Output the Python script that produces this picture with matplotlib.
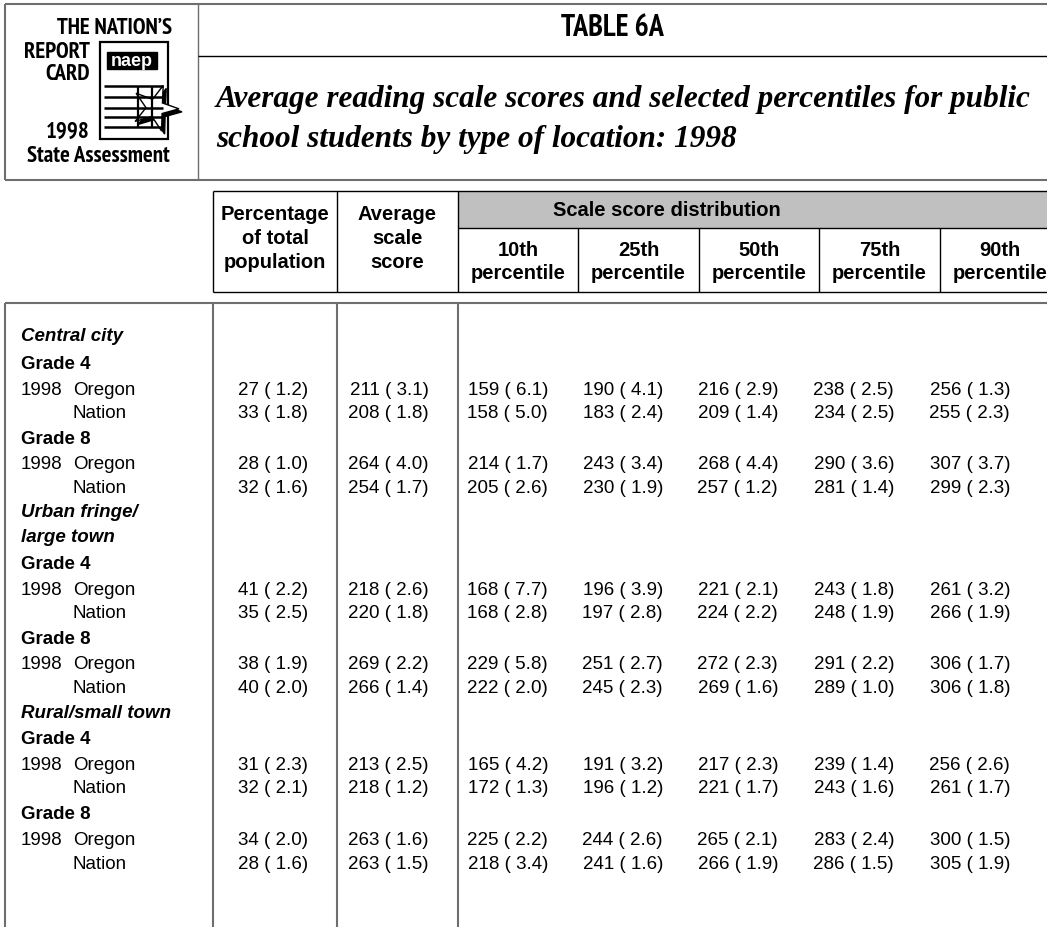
import matplotlib
matplotlib.use("Agg")
import matplotlib.pyplot as plt
from matplotlib import font_manager as fm
from matplotlib.patches import Rectangle, Polygon
import numpy as np

# ---------------- data ----------------
location_labels = ["Central city", "Urban fringe/", "large town", "Rural/small town"]
grade_labels = ["Grade 4", "Grade 8"]
jurisdiction_labels = ["Oregon", "Nation"]
year_label = "1998"

pct_total = [27, 33, 28, 32, 41, 35, 38, 40, 31, 32, 34, 28]
pct_total_se = [1.2, 1.8, 1.0, 1.6, 2.2, 2.5, 1.9, 2.0, 2.3, 2.1, 2.0, 1.6]
avg_score = [211, 208, 264, 254, 218, 220, 269, 266, 213, 218, 263, 263]
avg_score_se = [3.1, 1.8, 4.0, 1.7, 2.6, 1.8, 2.2, 1.4, 2.5, 1.2, 1.6, 1.5]
p10 = [159, 158, 214, 205, 168, 168, 229, 222, 165, 172, 225, 218]
p10_se = [6.1, 5.0, 1.7, 2.6, 7.7, 2.8, 5.8, 2.0, 4.2, 1.3, 2.2, 3.4]
p25 = [190, 183, 243, 230, 196, 197, 251, 245, 191, 196, 244, 241]
p25_se = [4.1, 2.4, 3.4, 1.9, 3.9, 2.8, 2.7, 2.3, 3.2, 1.2, 2.6, 1.6]
p50 = [216, 209, 268, 257, 221, 224, 272, 269, 217, 221, 265, 266]
p50_se = [2.9, 1.4, 4.4, 1.2, 2.1, 2.2, 2.3, 1.6, 2.3, 1.7, 2.1, 1.9]
p75 = [238, 234, 290, 281, 243, 248, 291, 289, 239, 243, 283, 286]
p75_se = [2.5, 2.5, 3.6, 1.4, 1.8, 1.9, 2.2, 1.0, 1.4, 1.6, 2.4, 1.5]
p90 = [256, 255, 307, 299, 261, 266, 306, 306, 256, 261, 300, 305]
p90_se = [1.3, 2.3, 3.7, 2.3, 3.2, 1.9, 1.7, 1.8, 2.6, 1.7, 1.5, 1.9]

col_headers = [["Percentage", "of total", "population"], ["Average", "scale", "score"]]
pct_headers = ["10th", "25th", "50th", "75th", "90th"]
pct_word = "percentile"
group_header = "Scale score distribution"
table_title = "TABLE 6A"
subtitle_lines = ["Average reading scale scores and selected percentiles for public",
                  "school students by type of location: 1998"]
logo_lines = ["THE NATION\u2019S", "REPORT", "CARD", "1998", "State Assessment"]

# ---------------- fonts ----------------
def wnum(w):
    if isinstance(w, (int, float)):
        return w
    return {"bold": 700, "heavy": 800, "black": 900, "semibold": 600,
            "demibold": 600, "extra bold": 800, "ultrabold": 800}.get(str(w).lower(), 400)

names = {f.name for f in fm.fontManager.ttflist}
bold_names = {f.name for f in fm.fontManager.ttflist
              if wnum(f.weight) >= 700 and f.style == "normal"}

def pick(cands, default, pool):
    for c in cands:
        if c in pool:
            return c
    return default

SANS = pick(["Liberation Sans", "Arimo"], "DejaVu Sans", names)
NARROW = pick(["Liberation Sans Narrow", "Arial Narrow", "Archivo Narrow",
               "PT Sans Narrow", "Roboto Condensed", "Fira Sans Condensed",
               "IBM Plex Sans Condensed", "Encode Sans Condensed",
               "Asap Condensed", "Barlow Semi Condensed", "Pragati Narrow",
               "Open Sans Condensed", "Sofia Sans Condensed"],
              SANS, bold_names)
SERIF = pick(["Liberation Serif", "Tinos"], "DejaVu Serif", names)

W, H = 1047, 928
fig = plt.figure(figsize=(W / 100, H / 100), dpi=100)
ax = fig.add_axes([0, 0, 1, 1])
ax.set_xlim(0, W)
ax.set_ylim(H, 0)
ax.axis("off")

GRAYLINE = "#6e6e6e"

def hline(y, x0, x1, color="black", lw=1.0):
    ax.plot([x0, x1], [y, y], color=color, lw=lw, solid_capstyle="butt")

def vline(x, y0, y1, color="black", lw=1.0):
    ax.plot([x, x], [y0, y1], color=color, lw=lw, solid_capstyle="butt")

# ---------------- top box ----------------
hline(4.5, 5, W, GRAYLINE, 1.5)
hline(181, 5, W, GRAYLINE, 1.5)
vline(5, 4.5, 181, GRAYLINE, 1.5)
vline(198, 4.5, 181, GRAYLINE, 1.0)
hline(57, 198, W, "black", 1.0)

ax.text(612, 28, table_title, ha="center", va="center", fontsize=21.5,
        fontweight="bold", family=NARROW)
for yy, t in zip([99, 139], subtitle_lines):
    ax.text(216, yy, t, ha="left", va="center", fontsize=22.5,
            fontweight="bold", fontstyle="italic", family=SERIF)

# logo
lkw = dict(fontweight="bold", family=NARROW, va="center")
LFS = 16.5
ax.text(172, 29, logo_lines[0], ha="right", fontsize=LFS, **lkw)
ax.text(90, 53, logo_lines[1], ha="right", fontsize=LFS, **lkw)
ax.text(90, 74, logo_lines[2], ha="right", fontsize=LFS, **lkw)
ax.text(90, 132, logo_lines[3], ha="right", fontsize=LFS, **lkw)
ax.text(98, 156, logo_lines[4], ha="center", fontsize=LFS, **lkw)
ax.add_patch(Rectangle((100, 43), 68, 97, fill=False, ec="black", lw=1.6))
ax.add_patch(Rectangle((107, 53), 50, 17, fc="black", ec="black"))
ax.text(132, 61.5, "naep", ha="center", va="center", color="white",
        fontsize=13, fontweight="bold", family=SANS)
for yy in [87, 98, 109, 118, 128]:
    hline(yy, 104, 163, "black", 1.8)
vline(138, 87, 128, "black", 1.6)
vline(152, 87, 128, "black", 1.6)

def star(cx, cy, r_out, r_in, rot):
    ang = np.deg2rad(rot) + np.arange(10) * np.pi / 5
    rr = np.where(np.arange(10) % 2 == 0, r_out, r_in)
    return np.column_stack([cx + rr * np.sin(ang), cy - rr * np.cos(ang)])

ax.add_patch(Polygon(star(158, 112, 24, 9, 20), closed=True, fc="black", ec="black"))
ax.add_patch(Polygon(star(155, 109, 24, 9, 20), closed=True, fc="white", ec="black", lw=1.0))

# ---------------- header table ----------------
HT, HG, HB = 192, 229, 293
XL = 213
col_x = [213, 337, 458, 578, 699, 819, 940]
ax.add_patch(Rectangle((458, HT), W - 458, HG - HT, fc="#c0c0c0", ec="none"))
hline(HT, XL, W, "black", 1.0)
hline(HG, 458, W, "black", 1.0)
hline(HB, XL, W, "black", 1.0)
for i, x in enumerate(col_x):
    vline(x, HT if i < 3 else HG, HB, "black", 1.0)

hkw = dict(fontweight="bold", family=SANS, fontsize=14.5, ha="center", va="center")
for cx, lines in zip([275, 397], col_headers):
    for yy, t in zip([214, 238.5, 263], lines):
        ax.text(cx, yy, t, **hkw)
ax.text(667, 211, group_header, **hkw)
pct_centers = [518, 638.5, 759, 879.5, 1000]
for cx, t in zip(pct_centers, pct_headers):
    ax.text(cx, 251, t, **hkw)
    ax.text(cx, 274, pct_word, **hkw)

# ---------------- data body ----------------
DT = 304
hline(DT, 5, W, GRAYLINE, 1.5)
for x in [5, 213, 337, 458]:
    vline(x, DT, H, GRAYLINE, 1.5)

loc_y = [337, 513, 538, 714]
grade_y = [365, 440, 565, 640, 740, 815]
data_y = [391, 414, 465, 489, 591, 614, 665, 689, 766, 789, 841, 865]

FS = 13.5
for t, y in zip(location_labels, loc_y):
    ax.text(21, y, t, fontsize=FS, fontweight="bold", fontstyle="italic",
            family=SANS, va="center", ha="left")
for i, y in enumerate(grade_y):
    ax.text(21, y, grade_labels[i % 2], fontsize=FS, fontweight="bold",
            family=SANS, va="center", ha="left")

columns = [(pct_total, pct_total_se, 308), (avg_score, avg_score_se, 429),
           (p10, p10_se, 548), (p25, p25_se, 663), (p50, p50_se, 778),
           (p75, p75_se, 894), (p90, p90_se, 1010)]
for r, y in enumerate(data_y):
    if r % 2 == 0:
        ax.text(21, y, year_label, fontsize=FS, family=SANS, va="center", ha="left")
    ax.text(73, y, jurisdiction_labels[r % 2], fontsize=FS, family=SANS,
            va="center", ha="left")
    for vals, ses, xr in columns:
        ax.text(xr, y, f"{vals[r]} ( {ses[r]:.1f})", fontsize=FS, family=SANS,
                va="center", ha="right")

fig.savefig("out.png", dpi=100)
